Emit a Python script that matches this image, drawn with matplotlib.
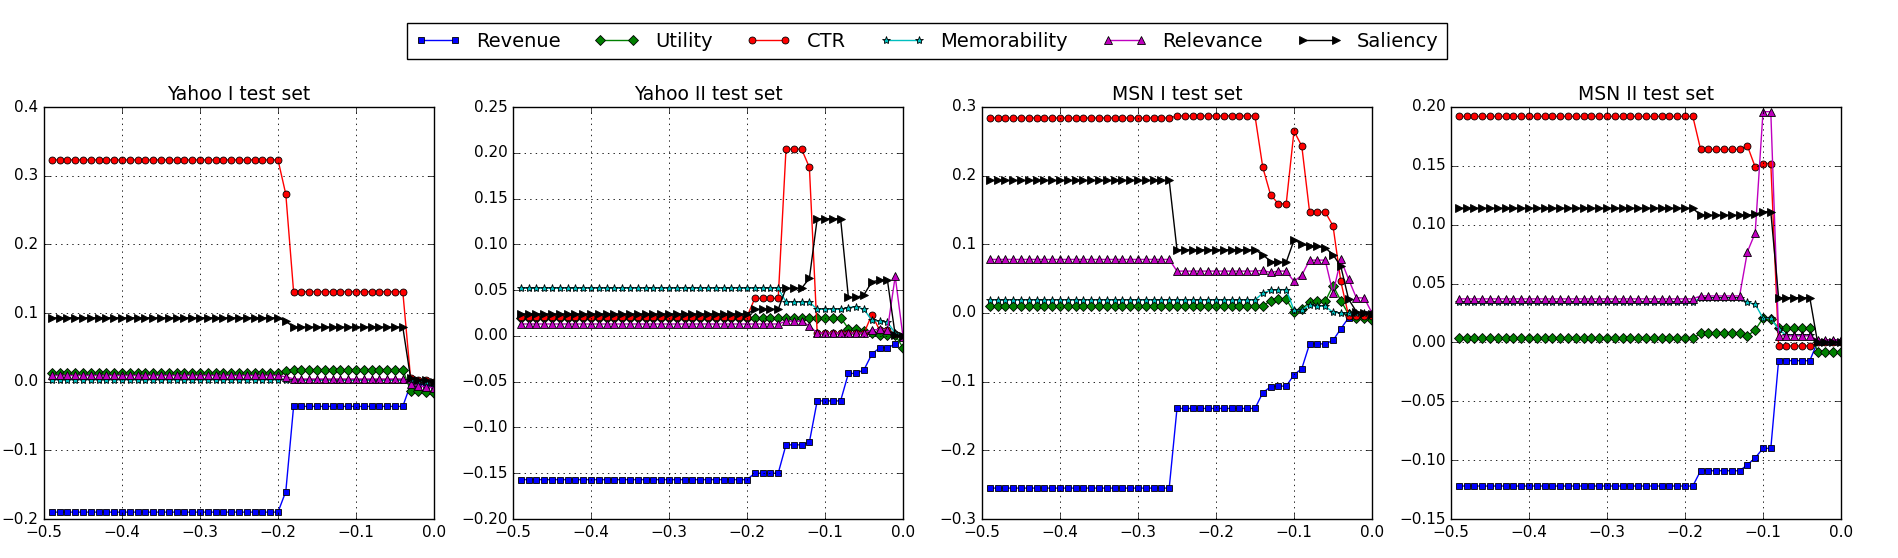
import matplotlib
matplotlib.use('Agg')
import matplotlib.pyplot as plt

plt.style.use('classic')

# x positions shared by all four panels (-0.49 ... 0.00)
x = [i / 100 for i in range(-49, 1)]

series_names = ['Revenue', 'Utility', 'CTR', 'Memorability', 'Relevance', 'Saliency']
titles = ['Yahoo I test set', 'Yahoo II test set', 'MSN I test set', 'MSN II test set']

# ---- Yahoo I ----
y1_revenue = [-0.190] * 30 + [-0.160] + [-0.036] * 15 + [-0.004, -0.004, -0.005, -0.006]
y1_utility = [0.012] * 30 + [0.015] + [0.0175] * 15 + [-0.013, -0.013, -0.015, -0.016]
y1_ctr = [0.323] * 30 + [0.273] + [0.131] * 15 + [0.005, 0.003, 0.002, 0.0]
y1_memorability = [0.003] * 30 + [0.003] + [0.002] * 15 + [0.003, 0.001, 0.0, -0.002]
y1_relevance = [0.009] * 30 + [0.007] + [0.004] * 15 + [-0.003, -0.006, -0.008, -0.009]
y1_saliency = [0.093] * 30 + [0.088] + [0.0795] * 15 + [0.005, 0.003, 0.002, 0.0]

# ---- Yahoo II ----
y2_revenue = ([-0.157] * 30 + [-0.150] * 4 + [-0.119] * 3 + [-0.116] + [-0.071] * 4
              + [-0.041, -0.041, -0.037, -0.020, -0.013, -0.013, -0.009, -0.001])
y2_utility = ([0.019] * 34 + [0.020] * 8
              + [0.008, 0.008, 0.005, 0.003, 0.001, 0.001, 0.001, -0.013])
y2_ctr = ([0.021] * 30 + [0.041] * 4 + [0.204] * 3 + [0.184] + [0.003] * 7
          + [0.023, 0.0065, 0.006, 0.002, 0.0])
y2_memorability = ([0.052] * 34 + [0.037] * 4 + [0.029] * 4
                   + [0.031, 0.032, 0.029, 0.017, 0.016, 0.015, 0.003, 0.001])
y2_relevance = ([0.013] * 34 + [0.016] * 3 + [0.011] + [0.003] * 7
                + [0.0065, 0.007, 0.0065, 0.065, -0.001])
y2_saliency = ([0.024] * 30 + [0.029] * 4 + [0.052] * 3 + [0.063] + [0.128] * 4
               + [0.042, 0.042, 0.045, 0.059, 0.061, 0.061, 0.001, 0.0])

# ---- MSN I ----
m1_revenue = ([-0.255] * 24 + [-0.139] * 11
              + [-0.116, -0.1075, -0.1065, -0.1065, -0.090, -0.081, -0.045, -0.045,
                 -0.045, -0.040, -0.023, -0.007, -0.0025, -0.001, -0.001])
m1_utility = ([0.010] * 35
              + [0.010, 0.018, 0.020, 0.020, 0.0015, 0.006, 0.0155, 0.017, 0.017,
                 0.040, 0.018, -0.002, -0.008, -0.008, -0.010])
m1_ctr = ([0.284] * 24 + [0.287] * 11
          + [0.212, 0.172, 0.159, 0.159, 0.265, 0.243, 0.147, 0.147, 0.147,
             0.127, 0.046, -0.004, -0.004, -0.004, -0.004])
m1_memorability = ([0.019] * 35
                   + [0.029, 0.033, 0.034, 0.034, 0.004, 0.005, 0.011, 0.010, 0.010,
                      0.001, 0.0, 0.0, 0.0, 0.0, 0.0])
m1_relevance = ([0.078] * 24 + [0.061] * 11
                + [0.062, 0.059, 0.061, 0.061, 0.046, 0.055, 0.077, 0.077, 0.077,
                   0.029, 0.078, 0.049, 0.022, 0.022, 0.0])
m1_saliency = ([0.193] * 24 + [0.092] * 11
               + [0.085, 0.075, 0.074, 0.074, 0.106, 0.101, 0.097, 0.097, 0.095,
                  0.085, 0.068, 0.020, 0.002, 0.0, -0.002])

# ---- MSN II ----
m2_revenue = ([-0.122] * 31 + [-0.109] * 6 + [-0.104, -0.098, -0.090, -0.090]
              + [-0.0155] * 5 + [0.0006] * 4)
m2_utility = ([0.0034] * 31 + [0.0076] * 6 + [0.0056, 0.0105, 0.0206, 0.0198]
              + [0.0124] * 5 + [-0.0085] * 4)
m2_ctr = ([0.192] * 31 + [0.164] * 6 + [0.167, 0.149, 0.152, 0.152]
          + [-0.003] * 5 + [0.0] * 4)
m2_memorability = ([0.034] * 31 + [0.038] * 6 + [0.034, 0.0325, 0.0206, 0.0206]
                   + [0.011, 0.006, 0.006, 0.006, 0.006] + [0.001] * 4)
m2_relevance = ([0.037] * 31 + [0.0395] * 6 + [0.077, 0.093, 0.196, 0.196]
                + [0.0056] * 5 + [0.002] * 4)
m2_saliency = ([0.114] * 31 + [0.108] * 7 + [0.109, 0.111, 0.111]
               + [0.038] * 5 + [0.0] * 4)

panels = [
    [y1_revenue, y1_utility, y1_ctr, y1_memorability, y1_relevance, y1_saliency],
    [y2_revenue, y2_utility, y2_ctr, y2_memorability, y2_relevance, y2_saliency],
    [m1_revenue, m1_utility, m1_ctr, m1_memorability, m1_relevance, m1_saliency],
    [m2_revenue, m2_utility, m2_ctr, m2_memorability, m2_relevance, m2_saliency],
]

y_limits = [(-0.2, 0.4), (-0.2, 0.25), (-0.3, 0.3), (-0.15, 0.2)]
y_steps = [0.1, 0.05, 0.1, 0.05]

styles = [
    dict(color='b', marker='s', ms=5),
    dict(color='g', marker='D', ms=5.5),
    dict(color='r', marker='o', ms=5),
    dict(color='c', marker='*', ms=6),
    dict(color='m', marker='^', ms=5.5),
    dict(color='k', marker='>', ms=6),
]

fig = plt.figure(figsize=(18.98, 5.58), dpi=100, facecolor='white')

lefts = [44, 513, 982, 1451]
handles = []
for i, data in enumerate(panels):
    ax = fig.add_axes([lefts[i] / 1898, 1 - 519 / 558, 390 / 1898, 412 / 558])
    lines = []
    for name, vals, st in zip(series_names, data, styles):
        ln, = ax.plot(x, vals, color=st['color'], marker=st['marker'],
                      markersize=st['ms'], markeredgecolor='k',
                      markeredgewidth=0.6, linewidth=1.0, label=name)
        lines.append(ln)
    if i == 0:
        handles = lines
    lo, hi = y_limits[i]
    step = y_steps[i]
    n = int(round((hi - lo) / step))
    ax.set_yticks([lo + k * step for k in range(n + 1)])
    ax.set_ylim(lo, hi)
    ax.set_xlim(-0.5, 0.0)
    ax.set_xticks([-0.5, -0.4, -0.3, -0.2, -0.1, 0.0])
    ax.grid(True, linestyle=':', color='k', linewidth=0.6)
    ax.tick_params(labelsize=11)
    ax.set_title(titles[i], fontsize=13.5)

fig.legend(handles, series_names, loc='center', bbox_to_anchor=(0.4885, 0.9265),
           ncol=6, numpoints=2, fontsize=14, frameon=True, borderpad=0.45,
           columnspacing=1.75, handlelength=2.3)

fig.savefig('out.png', dpi=100, facecolor='white')
